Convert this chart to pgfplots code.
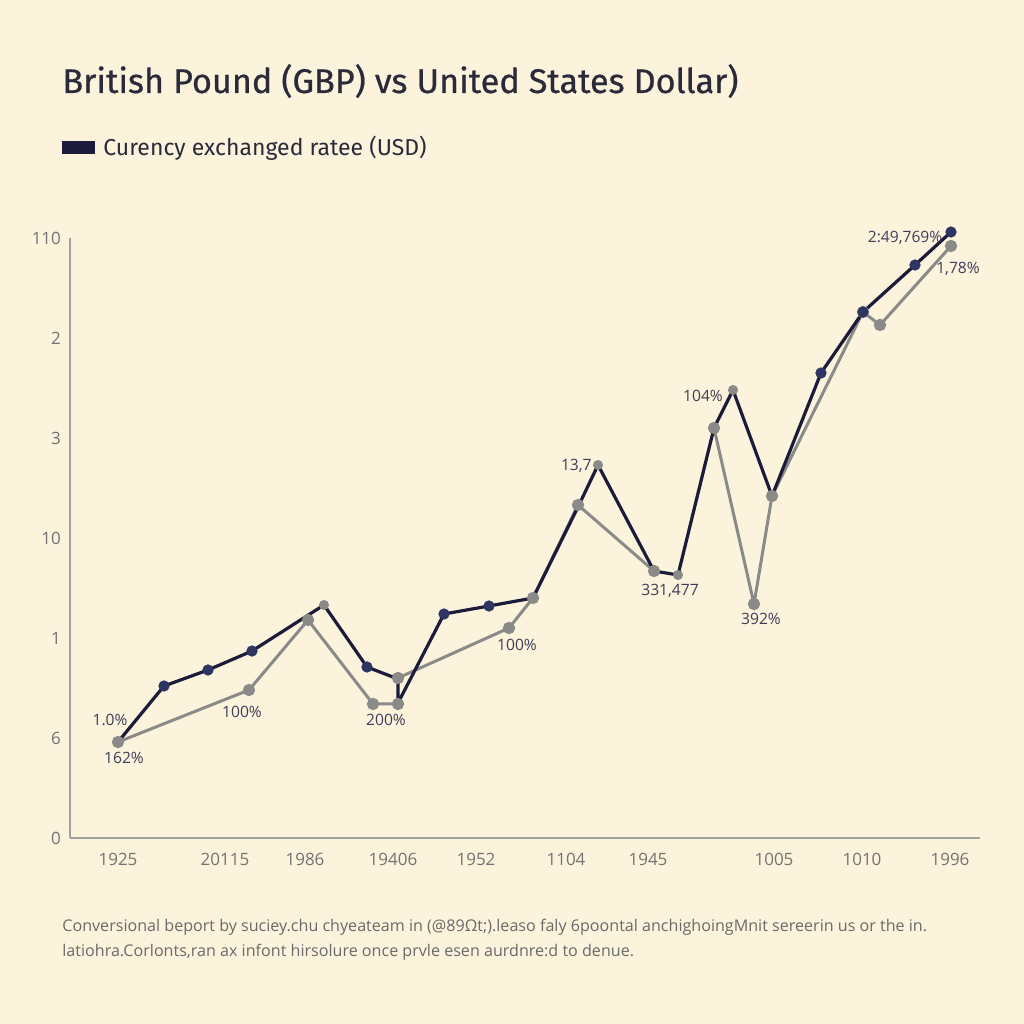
\documentclass[border=0pt]{standalone}
\usepackage{pgfplots}
\pgfplotsset{compat=1.18}
\usepackage{fontspec}
\setmainfont{Fira Sans}
\newfontfamily\titlefont[FakeBold=0.6]{Fira Sans}
\newfontfamily\tickfont{Open Sans}
\definecolor{bg}{HTML}{FBF3DC}
\definecolor{darkline}{HTML}{1C1C3A}
\definecolor{navydot}{HTML}{2E3560}
\definecolor{grayline}{HTML}{8A8A88}
\definecolor{titlec}{HTML}{2A2A3A}
\definecolor{tickc}{HTML}{5A5A5A}
\definecolor{footc}{HTML}{6A6A6A}
\begin{document}
\begin{tikzpicture}[x=0.5pt,y=0.5pt]
\fill[bg] (0,0) rectangle (1024,1024);
\useasboundingbox (0,0) rectangle (1024,1024);
\node[anchor=base west,inner sep=0,text=titlec,font=\titlefont\fontsize{17.1}{20}\selectfont] at (62,1024-93) {British Pound (GBP) vs United States Dollar)};
\fill[darkline] (62,1024-141) rectangle (95,1024-154);
\node[anchor=base west,inner sep=0,text=titlec,font=\fontsize{11.5}{13}\selectfont] at (103,1024-156) {Curency exchanged ratee (USD)};
\node[anchor=base west,inner sep=0,text=footc,font=\tickfont\fontsize{8.05}{10}\selectfont] at (62,1024-932) {Conversional beport by suciey.chu chyeateam in (@89Ωt;).leaso faly 6poontal anchighoingMnit sereerin us or the in.};
\node[anchor=base west,inner sep=0,text=footc,font=\tickfont\fontsize{8.05}{10}\selectfont] at (62,1024-956) {latiohra.Corlonts,ran ax infont hirsolure once prvle esen aurdnre:d to denue.};
\begin{axis}[
  at={(70,1024-838)}, anchor=south west,
  scale only axis, width=455pt, height=300pt,
  xmin=70, xmax=980, ymin=0, ymax=6,
  clip=false,
  axis lines=left,
  axis line style={draw=grayline!80, line width=0.6pt, -},
  xtick={118,225,305,393,476,566,648,774,862,950},
  xticklabels={1925,20115,1986,19406,1952,1104,1945,1005,1010,1996},
  ytick={0,1,2,3,4,5,6},
  yticklabels={0,6,1,10,3,2,110},
  major tick length=0pt,
  tick label style={font=\tickfont\fontsize{8.5}{10}\selectfont, text=tickc!85},
  /pgf/number format/assume math mode=true,
  xticklabel style={yshift=-4pt},
  yticklabel style={xshift=-1pt},
]
% gray series
\addplot[grayline, line width=1.5pt, mark=*, mark size=2.3pt, mark options={fill=grayline,draw=grayline}] coordinates {
(118,0.96) (249,1.48) (308,2.18) (373,1.34) (398,1.34)};
\addplot[grayline, line width=1.5pt, mark=*, mark size=2.3pt, mark options={fill=grayline,draw=grayline}] coordinates {
(398,1.60) (509,2.10) (533,2.40) (578,3.33) (654,2.67)};
\addplot[grayline, line width=1.5pt, mark=*, mark size=2.3pt, mark options={fill=grayline,draw=grayline}] coordinates {
(714,4.10) (754,2.34) (772,3.42) (863,5.26) (880,5.13) (951,5.92)};
% dark series
\addplot[darkline, line width=1.6pt, mark=none] coordinates {
(118,0.96) (164,1.52) (208,1.68) (252,1.87) (324,2.33) (367,1.71) (398,1.59) (398,1.35) (444,2.24) (489,2.32) (533,2.40) (578,3.31) (598,3.73) (654,2.67) (678,2.63) (714,4.10) (733,4.48) (772,3.42) (821,4.65) (863,5.26) (915,5.73) (951,6.06)};
\addplot[only marks, mark=*, mark size=2.6pt, mark options={fill=navydot,draw=navydot}] coordinates {
(164,1.52) (208,1.68) (252,1.87) (367,1.71) (444,2.24) (489,2.32) (821,4.65) (863,5.26) (915,5.73) (951,6.06)};
\addplot[only marks, mark=*, mark size=2.3pt, mark options={fill=grayline,draw=grayline}] coordinates {
(324,2.33) (598,3.73) (678,2.63) (733,4.48) (533,2.40)};
% annotations
\begin{scope}[every node/.style={font=\tickfont\fontsize{7.8}{10}\selectfont, text=darkline!85, inner sep=0}]
\node at (axis cs:110,1.18) {1.0\%};
\node at (axis cs:124,0.80) {162\%};
\node at (axis cs:242,1.26) {100\%};
\node at (axis cs:386,1.18) {200\%};
\node at (axis cs:517,1.93) {100\%};
\node[anchor=east] at (axis cs:592,3.72) {13,7};
\node at (axis cs:670,2.47) {331,477};
\node at (axis cs:703,4.42) {104\%};
\node at (axis cs:761,2.19) {392\%};
\node at (axis cs:905,6.00) {2:49,769\%};
\node at (axis cs:958,5.69) {1,78\%};
\end{scope}
\end{axis}
\end{tikzpicture}
\end{document}
